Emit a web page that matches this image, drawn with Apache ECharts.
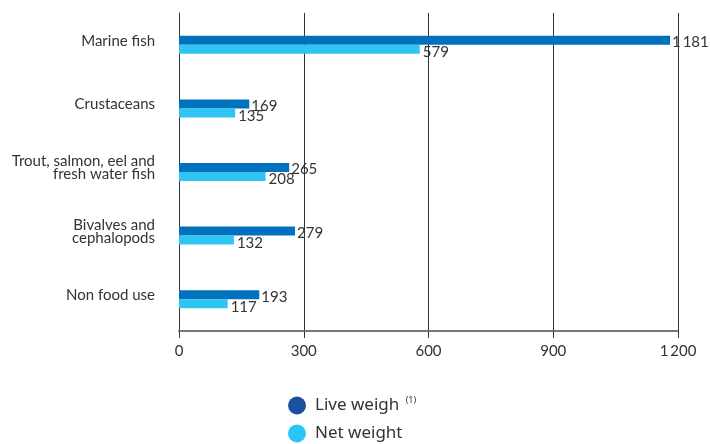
<!DOCTYPE html>
<html><head><meta charset="utf-8">
<script src="https://cdn.jsdelivr.net/npm/echarts@6/dist/echarts.min.js"></script>
<style>html,body{margin:0;padding:0;background:#fff}#c{width:710px;height:444px}</style>
</head><body><div id="c"></div>
<script>
const categories = ["Marine fish", "Crustaceans", "Trout, salmon, eel and\nfresh water fish", "Bivalves and\ncephalopods", "Non food use"];
const liveWeight = [1181, 169, 265, 279, 193];
const netWeight = [579, 135, 208, 132, 117];
const xTicks = [0, 300, 600, 900, 1200];
const seriesNames = ["Live weigh", "Net weight"];

const fmt = v => String(v).replace(/\B(?=(\d{3})+(?!\d))/g, "\u2009");
const FONT = "Lato";
const chart = echarts.init(document.getElementById('c'), null, {renderer: 'canvas'});
chart.setOption({
  animation: false,
  textStyle: {fontFamily: FONT},
  grid: {left: 179, right: 32, top: 13, bottom: 113, containLabel: false},
  xAxis: {
    type: 'value', min: xTicks[0], max: xTicks[xTicks.length - 1], interval: xTicks[1] - xTicks[0],
    axisLine: {show: true, lineStyle: {color: '#777', width: 2}},
    axisTick: {show: true, length: 7, lineStyle: {color: '#333'}},
    splitLine: {show: true, lineStyle: {color: '#333', width: 1}},
    axisLabel: {color: '#333', fontSize: 15, fontFamily: FONT, margin: 13, formatter: v => fmt(v)}
  },
  yAxis: {
    type: 'category', data: categories, inverse: true,
    axisLine: {show: true, lineStyle: {color: '#333', width: 1}},
    axisTick: {show: false},
    axisLabel: {
      color: '#333', fontSize: 15, fontFamily: FONT, margin: 24, align: 'right',
      formatter: v => v.split('\n').map(l => '{a|' + l + '}').join('\n') + '\n{s| }',
      rich: {a: {fontSize: 15, lineHeight: 13, color: '#333', fontFamily: FONT}, s: {fontSize: 4, lineHeight: 8}}
    }
  },
  legend: {
    orient: 'vertical', left: 283, top: 391, height: 60, itemGap: 10,
    icon: 'circle', itemWidth: 18, itemHeight: 18,
    textStyle: {color: '#333', fontSize: 17, fontFamily: "Noto Sans", padding: [0,0,0,4],
      rich: {sup: {fontSize: 9, fontFamily: "Noto Sans", color: '#333', verticalAlign: 'top', padding: [0,0,10,2]}}},
    formatter: n => n === seriesNames[0] ? n + ' {sup|(1)}' : n,
    data: [{name: seriesNames[0], itemStyle: {color: '#1d4f9f'}}, {name: seriesNames[1], itemStyle: {color: '#29c5f6'}}]
  },
  series: [
    {name: seriesNames[0], type: 'bar', data: liveWeight, barWidth: 9, barGap: '0%',
     itemStyle: {color: '#0071bc'},
     label: {show: true, position: 'right', distance: 2, color: '#333', fontSize: 15, fontFamily: FONT, offset: [0, 2], formatter: p => fmt(p.value)}},
    {name: seriesNames[1], type: 'bar', data: netWeight, barWidth: 9,
     itemStyle: {color: '#2ec5f3'},
     label: {show: true, position: 'right', distance: 3, color: '#333', fontSize: 15, fontFamily: FONT, offset: [0, 3], formatter: p => fmt(p.value)}}
  ]
});
</script></body></html>
